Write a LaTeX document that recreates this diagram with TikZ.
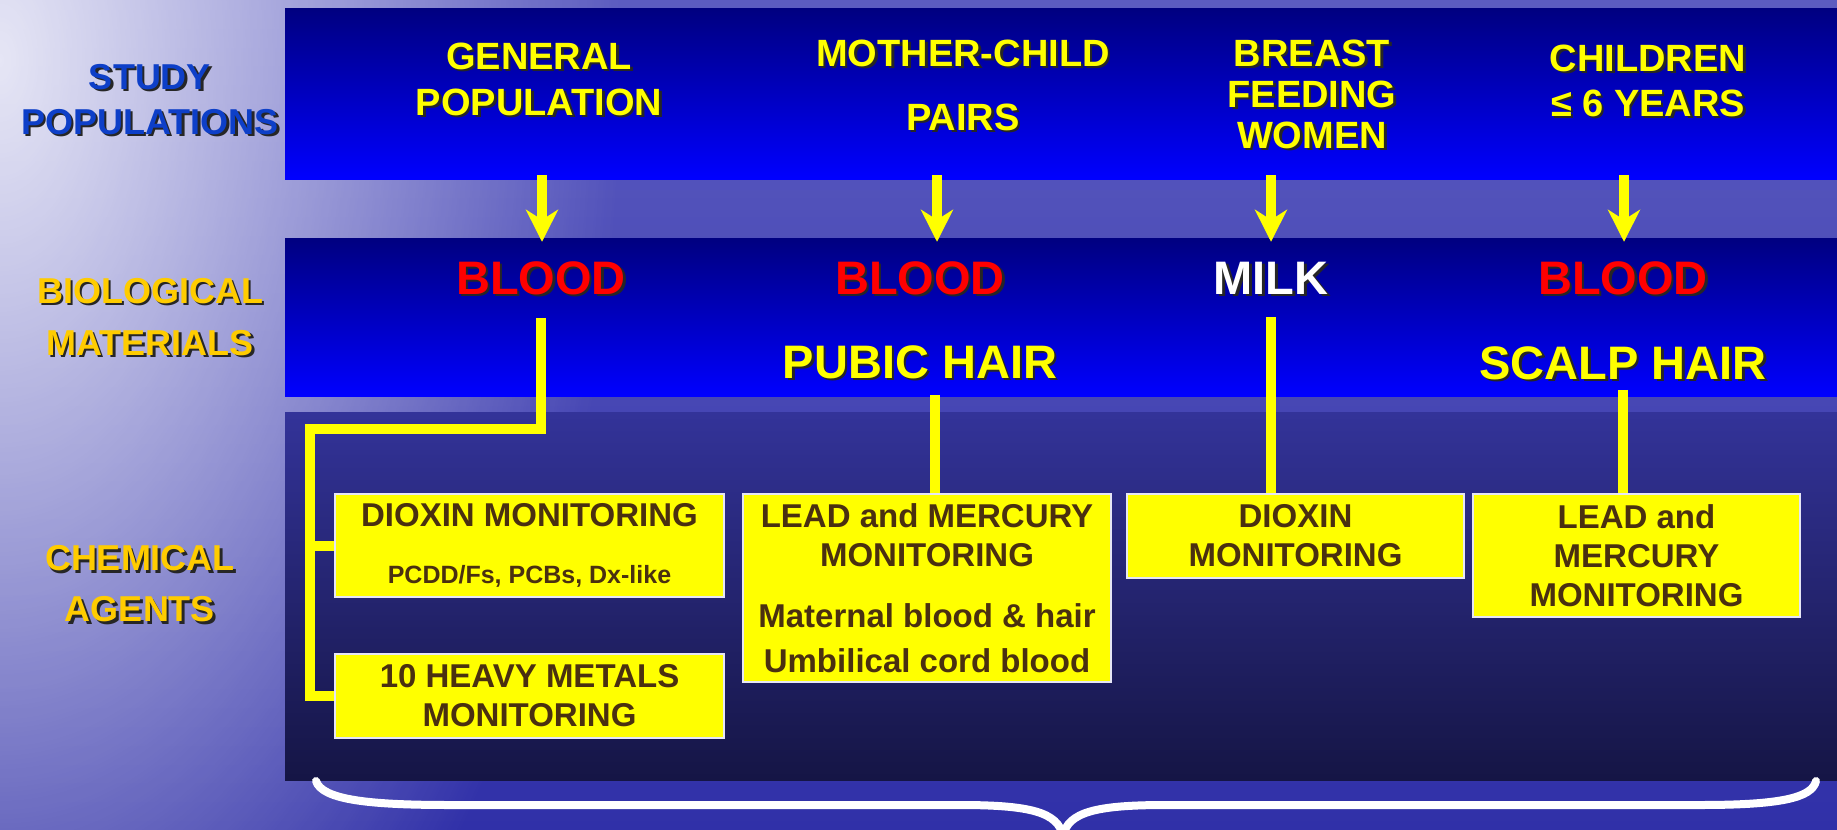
\documentclass[tikz,border=0pt]{standalone}
\usepackage{fontspec}
\setmainfont{Liberation Sans}
\usetikzlibrary{arrows.meta,fadings}

\definecolor{seatop}{HTML}{5C5CC0}
\definecolor{seabot}{HTML}{3030A8}
\definecolor{bandtop}{HTML}{000080}
\definecolor{bandbot}{HTML}{0000FF}
\definecolor{chemtop}{HTML}{333399}
\definecolor{chembot}{HTML}{151545}
\definecolor{popyellow}{HTML}{FFFF00}
\definecolor{bloodred}{HTML}{FF0000}
\definecolor{sidegold}{HTML}{FFCC00}
\definecolor{sideblue}{HTML}{0D3FC8}
\definecolor{boxedge}{HTML}{E6E6F5}
\definecolor{agentbrown}{HTML}{4A3010}

\tikzfading[name=glare, inner color=transparent!0, outer color=transparent!100]

\newcommand{\shadowlabel}[5]{%
  \node[#2, text=black!85] at (#3+2.5,#4+2.5) {#5};
  \node[#2] (#1) at (#3,#4) {#5};}

\begin{document}
\begin{tikzpicture}[x=1pt,y=-1pt,
  band/.style={inner sep=0pt, minimum width=1552pt, top color=bandtop, bottom color=bandbot},
  popl/.style={text=popyellow, align=center, inner sep=0pt, font=\fontsize{38}{46}\selectfont\bfseries},
  matl/.style={inner sep=0pt, font=\fontsize{47}{56}\selectfont\bfseries},
  side/.style={align=center, inner sep=0pt, font=\fontsize{36}{45}\selectfont\bfseries},
  agent/.style={draw=boxedge, line width=2pt, fill=popyellow, text=agentbrown, align=center, inner sep=0pt, font=\fontsize{33}{39}\selectfont\bfseries},
  feed/.style={draw=popyellow, line width=10pt},
  down/.style={feed, shorten <=-4pt, shorten >=-4pt, -{Stealth[length=32pt,width=32pt,inset=10pt]}},
  curly/.style={draw=white, line width=8pt, line cap=round}]
  \useasboundingbox (0,0) rectangle (1837,830);
  \shade[top color=seatop, bottom color=seabot] (0,0) rectangle (1837,830);
  \fill[white, opacity=.85, path fading=glare] (0,60) ellipse [x radius=620, y radius=1150];

  \node[band, minimum height=171pt] (popband) at (1061,93.5) {};
  \node[band, minimum height=158pt] (bioband) at (1061,317) {};
  \node[band, minimum height=368pt, top color=chemtop, bottom color=chembot] (chemband) at (1061,596) {};

  \shadowlabel{study}{side, text=sideblue}{150}{99.5}{STUDY\\POPULATIONS}
  \shadowlabel{biomat}{side, text=sidegold}{150}{317}{BIOLOGICAL\\[7pt]MATERIALS}
  \shadowlabel{chemag}{side, text=sidegold}{140}{584}{CHEMICAL\\[6pt]AGENTS}

  \shadowlabel{gen}{popl}{539}{79}{GENERAL\\POPULATION}
  \shadowlabel{mcp}{popl}{963}{85}{MOTHER-CHILD\\[18pt]PAIRS}
  \shadowlabel{bfw}{popl, font=\fontsize{38}{41}\selectfont\bfseries}{1312}{94}{BREAST\\FEEDING\\WOMEN}
  \shadowlabel{kids}{popl, font=\fontsize{38}{45}\selectfont\bfseries}{1648}{80.5}{CHILDREN\\≤ 6 YEARS}

  \shadowlabel{bloodA}{matl, text=bloodred}{541}{278}{BLOOD}
  \shadowlabel{bloodB}{matl, text=bloodred}{920}{278}{BLOOD}
  \shadowlabel{milk}{matl, text=white}{1271}{278}{MILK}
  \shadowlabel{bloodC}{matl, text=bloodred}{1623}{278}{BLOOD}
  \shadowlabel{pubic}{matl, text=popyellow}{920}{362}{PUBIC HAIR}
  \shadowlabel{scalp}{matl, text=popyellow}{1623}{363}{SCALP HAIR}

  \node[agent, minimum width=389pt, minimum height=103pt] (dioxA) at (529.5,545.5)
    {DIOXIN MONITORING\\[18pt]{\fontsize{25}{30}\selectfont PCDD/Fs, PCBs, Dx-like}};
  \node[agent, minimum width=389pt, minimum height=84pt] (metals) at (529.5,696)
    {10 HEAVY METALS\\MONITORING};
  \node[agent, minimum width=368pt, minimum height=188pt] (leadA) at (927,588)
    {LEAD and MERCURY\\MONITORING\\[22pt]Maternal blood \& hair\\[6pt]Umbilical cord blood};
  \node[agent, minimum width=337pt, minimum height=84pt] (dioxB) at (1295.5,536)
    {DIOXIN\\MONITORING};
  \node[agent, minimum width=327pt, minimum height=123pt] (leadB) at (1636.5,555.5)
    {LEAD and\\MERCURY\\MONITORING};

  \foreach \m/\dx in {bloodA/1, bloodB/17, milk/0, bloodC/1}
    \draw[down] ([xshift=\dx pt]\m.north |- popband.south) -- ([xshift=\dx pt]\m.north |- bioband.north);

  \coordinate (elbow) at (310,429);
  \draw[feed] ([yshift=-23pt]bloodA.south) |- (elbow) |- (metals.west);
  \draw[feed] (elbow |- dioxA.west) -- (dioxA.west);
  \draw[feed] ([shift={(15,16)}]pubic.south) coordinate (pubfoot) -- (pubfoot |- leadA.north);
  \draw[feed] ([yshift=-23pt]milk.south) -- (milk.south |- dioxB.north);
  \draw[feed] ([yshift=-10pt]scalp.south) -- (scalp.south |- leadB.north);

  \draw[curly] (316,781) .. controls (322,800) and (370,805) .. (450,805) -- (960,805)
    .. controls (1030,805) and (1058,812) .. (1063,836);
  \draw[curly] (1063,836) .. controls (1068,812) and (1096,805) .. (1166,805) -- (1700,805)
    .. controls (1780,805) and (1812,798) .. (1816,781);
\end{tikzpicture}
\end{document}
